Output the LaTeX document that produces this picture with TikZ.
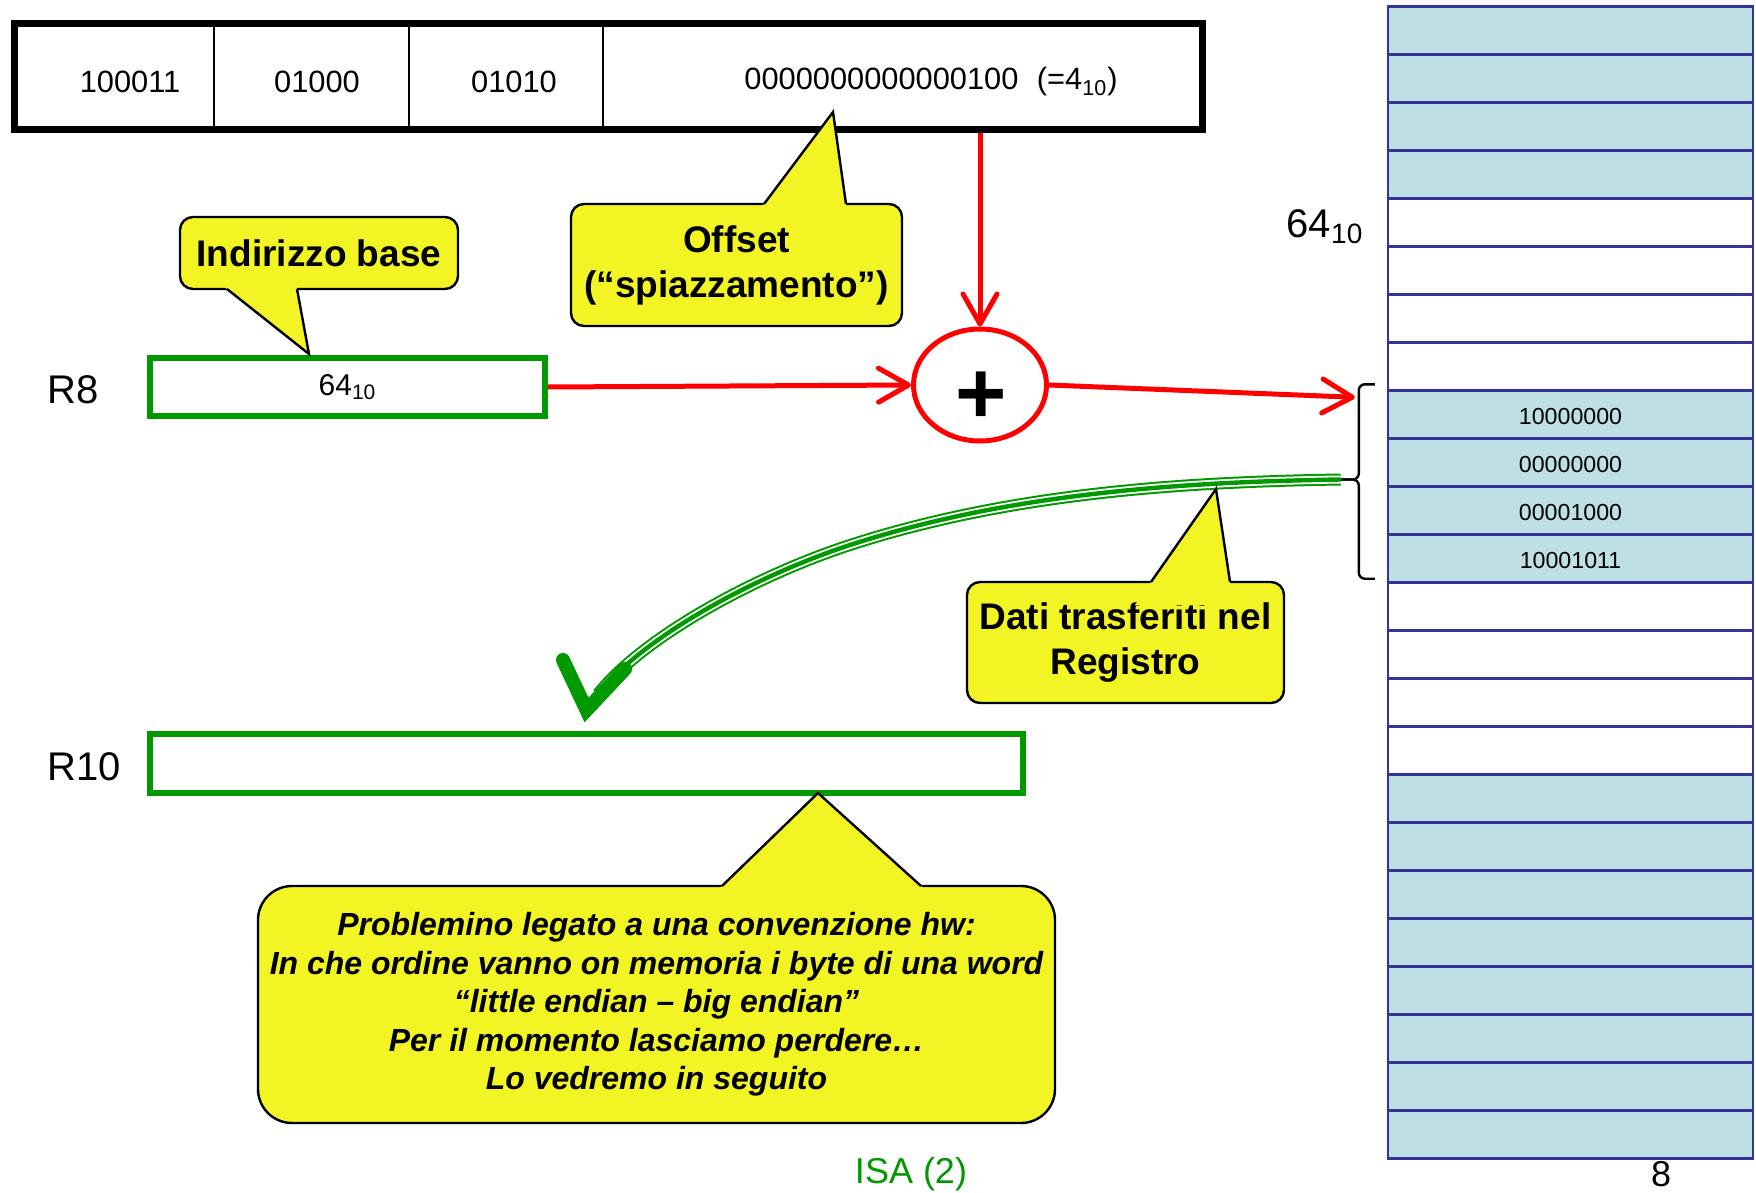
\documentclass[tikz,border=0pt]{standalone}
\usepackage{fontspec}
\setmainfont{Liberation Sans}
\usepackage{xcolor}
\usepackage{tikz}
\usetikzlibrary{shapes.geometric, arrows.meta, positioning, calc}
\definecolor{regreen}{RGB}{0,153,0}
\definecolor{notey}{RGB}{242,245,35}
\definecolor{memteal}{RGB}{188,224,227}
\definecolor{memblue}{RGB}{51,51,153}
\definecolor{sumred}{RGB}{255,0,0}

% pointer of a callout: tip, base1, base2
\newcommand{\noteptr}[3]{%
  \fill[notey] ($(#1)!1.25!(#2)$) -- (#1) -- ($(#1)!1.25!(#3)$) -- cycle;
  \draw[line width=1.2pt, line join=miter] (#2) -- (#1) -- (#3);}

\begin{document}
\begin{tikzpicture}[x=0.5pt, y=-0.5pt,
  field/.style={font=\fontsize{15.4}{18}\selectfont, inner sep=0pt},
  regbox/.style={rectangle, draw=regreen, line width=3pt, fill=white, inner sep=0pt},
  note/.style={rectangle, rounded corners=6.5pt, draw=black, line width=1.2pt, fill=notey,
               align=center, inner sep=0pt, font=\fontsize{18.5}{22.5}\selectfont\bfseries},
  memcell/.style={rectangle, draw=memblue, line width=1.2pt, minimum width=182.5pt,
                  minimum height=24pt, inner sep=0pt},
  sumnode/.style={ellipse, draw=sumred, line width=2.5pt, minimum width=66.5pt,
                  minimum height=56pt, inner sep=0pt},
  redarrow/.style={-{Straight Barb[length=15pt, width=17pt, round]}, line width=2.5pt, color=sumred},
  tripleline/.style={draw=regreen, line width=6pt, postaction={draw=white, line width=4pt},
                     postaction={draw=regreen, line width=2.2pt}},
  lbl/.style={font=\fontsize{20}{24}\selectfont},
  foot/.style={font=\fontsize{18}{22}\selectfont, inner sep=0pt}
]
\useasboundingbox (0,0) rectangle (1756,1193);

% instruction word
\node[draw, line width=3.6pt, minimum width=594pt, minimum height=53pt, inner sep=0pt] (instr) at (608.5,76.5) {};
\foreach \x in {214,409,603}
  \draw[line width=1pt] (\x,23.5) -- (\x,129.5);
\node[field] (opcode) at (130,82) {100011};
\node[field] (rs) at (317,82) {01000};
\node[field] (rt) at (514,82) {01010};
\node[field] (offs) at (931,82) {0000000000000100\hspace{0.6em}(=4\textsubscript{10})};

% registers
\node[lbl] (r8lbl) at (73,390) {R8};
\node[regbox, minimum width=197.5pt, minimum height=29pt, font=\fontsize{15}{18}\selectfont] (r8) at (347.5,387) {64\textsubscript{10}};
\node[lbl] (r10lbl) at (84,767) {R10};
\node[regbox, minimum width=436.5pt, minimum height=29.5pt] (r10) at (586.5,763.5) {};

% memory
\foreach \i in {0,1,2,3,8,9,10,11,16,17,18,19,20,21,22,23}
  \node[memcell, fill=memteal] (m\i) at (1570.5,{30.5+48*\i}) {};
\foreach \i in {4,5,6,7,12,13,14,15}
  \node[memcell, fill=white] (m\i) at (1570.5,{30.5+48*\i}) {};
\foreach \i/\v in {8/10000000, 9/00000000, 10/00001000, 11/10001011}
  \node[font=\fontsize{11.6}{14}\selectfont] (v\i) at ($(m\i)+(0,2)$) {\v};
\node[lbl] (addr) at (1325,227) {64\textsubscript{10}};

% brace on the word
\coordinate (btop) at ($(m8.north west)+(-12,-5)$);
\coordinate (bbot) at ($(m11.south west)+(-12,-5)$);
\coordinate (bt) at ($(btop)!0.5!(bbot)+(-34,-2)$);
\draw[line width=1.2pt, rounded corners=3pt] (btop) -- ++(-16,0) |- (bt);
\draw[line width=1.2pt, rounded corners=3pt] (bbot) -- ++(-16,0) |- (bt);
\coordinate (memptr) at ($(m8.north west)+(-32,8)$);

% adder
\node[sumnode] (sum) at (980,385) {};
\node[font=\fontsize{44}{44}\selectfont\bfseries, inner sep=0pt] (plus) at ($(sum.center)+(1,13)$) {+};

\draw[redarrow] (instr.south -| sum.north) -- (sum.north);
\draw[redarrow] (r8.east) -- (sum.west);
\draw[redarrow] (sum.east) -- (memptr);

% load into R10
\draw[tripleline] (bt) .. controls (1176,482) and (1007,494) .. (850,545)
  .. controls (755,576) and (643,637) .. ($(r10.north)+(11.5,-37)$);
\draw[regreen, line width=7pt, line cap=round, line join=miter]
  ($(r10.north)+(-23.5,-71)$) -- ($(r10.north)+(0,-21)$) -- ($(r10.north)+(38.5,-62)$);

% callouts
\node[note, minimum width=139pt, minimum height=36pt] (base) at (319,253) {Indirizzo base};
\noteptr{309,354}{227,289}{297,289}
\node[note, minimum width=165.5pt, minimum height=61pt] (offset) at (736.5,265) {Offset\\(“spiazzamento”)};
\noteptr{833,112}{764,204}{846,204}
\node[note, minimum width=158.5pt, minimum height=60.5pt] (dati) at (1125.5,642.5) {Dati trasferiti nel\\Registro};
\noteptr{1216,489}{1151,582}{1230,582}
\node[note, rounded corners=17pt, minimum width=398.5pt, minimum height=118.5pt,
      font=\fontsize{16}{19.25}\selectfont\bfseries\itshape] (conv) at (656.5,1004.5)
  {Problemino legato a una convenzione hw:\\In che ordine vanno on memoria i byte di una word\\“little endian – big endian”\\Per il momento lasciamo perdere…\\Lo vedremo in seguito};
\noteptr{818,793}{722,886}{921,886}

% footer
\node[foot, text=regreen] (isa) at (911,1174) {ISA (2)};
\node[foot] (page) at (1661,1174) {8};

\end{tikzpicture}
\end{document}
